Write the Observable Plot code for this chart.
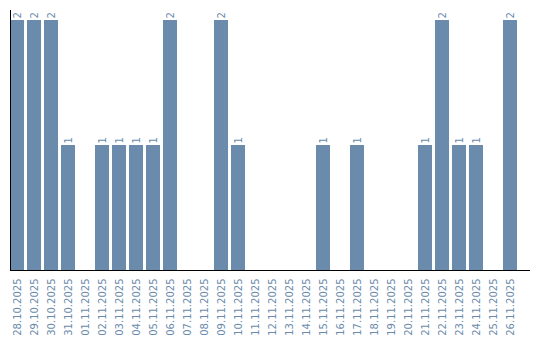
<!DOCTYPE html>
<html>
<head>
<meta charset="utf-8">
<script src="https://cdn.jsdelivr.net/npm/d3@7"></script>
<script src="https://cdn.jsdelivr.net/npm/@observablehq/plot@0.6"></script>
<style>
  html, body { margin: 0; padding: 0; background: #fff; }
</style>
</head>
<body>
<div id="chart"></div>
<script>
const dates = [
  "28.10.2025","29.10.2025","30.10.2025","31.10.2025","01.11.2025","02.11.2025",
  "03.11.2025","04.11.2025","05.11.2025","06.11.2025","07.11.2025","08.11.2025",
  "09.11.2025","10.11.2025","11.11.2025","12.11.2025","13.11.2025","14.11.2025",
  "15.11.2025","16.11.2025","17.11.2025","18.11.2025","19.11.2025","20.11.2025",
  "21.11.2025","22.11.2025","23.11.2025","24.11.2025","25.11.2025","26.11.2025"
];
const counts = [2,2,2,1,0,1,1,1,1,2,0,0,2,1,0,0,0,0,1,0,1,0,0,0,1,2,1,1,0,2];

const data = dates.map((d, i) => ({date: d, count: counts[i]}));
const color = "#6a8bab";

const chart = Plot.plot({
  width: 540,
  height: 340,
  marginLeft: 10,
  marginRight: 10,
  marginTop: 10,
  marginBottom: 70,
  style: {fontFamily: "DejaVu Sans", fontSize: "10px", background: "#fff"},
  x: {domain: dates, insetRight: 13, paddingInner: 0.175, paddingOuter: 0, round: false, label: null},
  y: {domain: [0, 2], range: [270, 20], axis: null},
  marks: [
    Plot.barY(data, {x: "date", y: "count", fill: color}),
    Plot.text(data.filter(d => d.count > 0), {
      x: "date", y: "count", text: d => String(d.count),
      rotate: -90, textAnchor: "start", dy: -2, fill: color, fontSize: 10
    }),
    Plot.axisX({tickRotate: -90, tickSize: 0, tickPadding: 8, fill: color, color: color, label: null, fontSize: 10}),
    Plot.ruleY([0], {stroke: "#000"}),
    Plot.frame({anchor: "left", stroke: "#000"})
  ]
});
document.getElementById("chart").appendChild(chart);
</script>
</body>
</html>
